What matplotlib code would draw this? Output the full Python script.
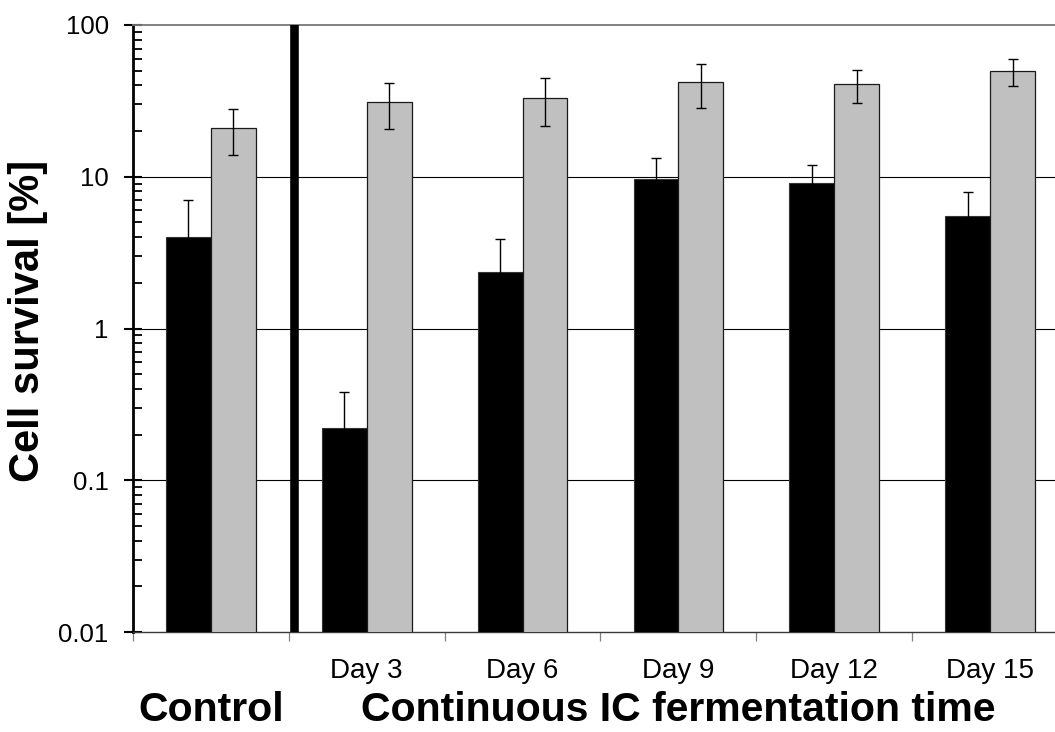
import numpy as np
import matplotlib
matplotlib.use("Agg")
import matplotlib.pyplot as plt
import matplotlib.transforms as mtransforms
from matplotlib.ticker import FixedLocator, NullFormatter, LogLocator

plt.rcParams['font.family'] = ['Liberation Sans', 'DejaVu Sans']

# Data
categories = ["", "Day 3", "Day 6", "Day 9", "Day 12", "Day 15"]
black_vals = [4.0, 0.22, 2.35, 9.6, 9.1, 5.55]
black_err = [3.0, 0.16, 1.55, 3.6, 2.8, 2.35]
gray_vals = [21.0, 31.0, 33.0, 42.0, 40.7, 49.6]
gray_err = [7.0, 10.5, 11.5, 13.5, 10.2, 9.7]
ytick_vals = [0.01, 0.1, 1, 10, 100]
ytick_labels = ["0.01", "0.1", "1", "10", "100"]

fig = plt.figure(figsize=(10.55, 7.32), dpi=100)
ax = fig.add_axes([133 / 1055, 1 - 632 / 732, 935 / 1055, 607 / 732])

x = np.arange(len(categories))
w = 0.288

ax.bar(x - w / 2, black_vals, width=w, color="black", edgecolor="#333333",
       linewidth=0.8, zorder=3)
ax.bar(x + w / 2, gray_vals, width=w, color="#c0c0c0", edgecolor="#1a1a1a",
       linewidth=0.9, zorder=3)
ax.errorbar(x - w / 2, black_vals, yerr=black_err, fmt="none", ecolor="black",
            elinewidth=1.0, capsize=3.6, capthick=1.0, zorder=4)
ax.errorbar(x + w / 2, gray_vals, yerr=gray_err, fmt="none", ecolor="black",
            elinewidth=1.0, capsize=3.6, capthick=1.0, zorder=4)

ax.set_yscale("log")
ax.set_ylim(0.01, 100)
ax.set_xlim(-0.5, len(categories) - 0.5)

# separator between control and time course
ax.axvline(0.535, color="black", linewidth=6.2, zorder=5)

# y axis ticks
ax.yaxis.set_major_locator(FixedLocator(ytick_vals))
ax.set_yticklabels(ytick_labels)
ax.yaxis.set_minor_locator(LogLocator(base=10, subs=np.arange(2, 10)))
ax.yaxis.set_minor_formatter(NullFormatter())
ax.tick_params(axis="y", which="major", direction="inout", length=13,
               width=1.5, labelsize=18.5, pad=11, color="black")
ax.tick_params(axis="y", which="minor", direction="in", length=6.2,
               width=1.3, color="black")

# x axis: ticks at category boundaries, labels at centers
ax.xaxis.set_major_locator(FixedLocator(np.arange(len(categories) + 1) - 0.5))
ax.xaxis.set_major_formatter(NullFormatter())
ax.xaxis.set_minor_locator(FixedLocator(x))
ax.set_xticklabels(categories, minor=True)
ax.tick_params(axis="x", which="major", direction="out", length=6.5,
               width=0.9, color="#808080")
ax.tick_params(axis="x", which="minor", length=0, labelsize=20, pad=19)

# grid
ax.set_axisbelow(True)
for v in ytick_vals[1:-1]:
    ax.axhline(v, color="black", linewidth=0.8, zorder=1)

ax.spines["right"].set_visible(False)
ax.spines["top"].set_color("#777777")
ax.spines["top"].set_linewidth(1.3)
ax.spines["left"].set_linewidth(2.0)
ax.spines["bottom"].set_color("#3a3a3a")
ax.spines["bottom"].set_linewidth(1.0)

# group titles under the axis
trans = mtransforms.blended_transform_factory(ax.transData, fig.transFigure)
ax.text(0, 1 - 721 / 732, "Control", transform=trans, ha="center",
        va="baseline", fontsize=29.5, fontweight="bold")
ax.text(3.0, 1 - 721 / 732, "Continuous IC fermentation time", transform=trans,
        ha="center", va="baseline", fontsize=29.5, fontweight="bold")

fig.text(28 / 1055, 1 - 321 / 732, "Cell survival [%]", rotation=90,
         ha="center", va="center", fontsize=30, fontweight="bold")

fig.savefig("out.png", dpi=100)
